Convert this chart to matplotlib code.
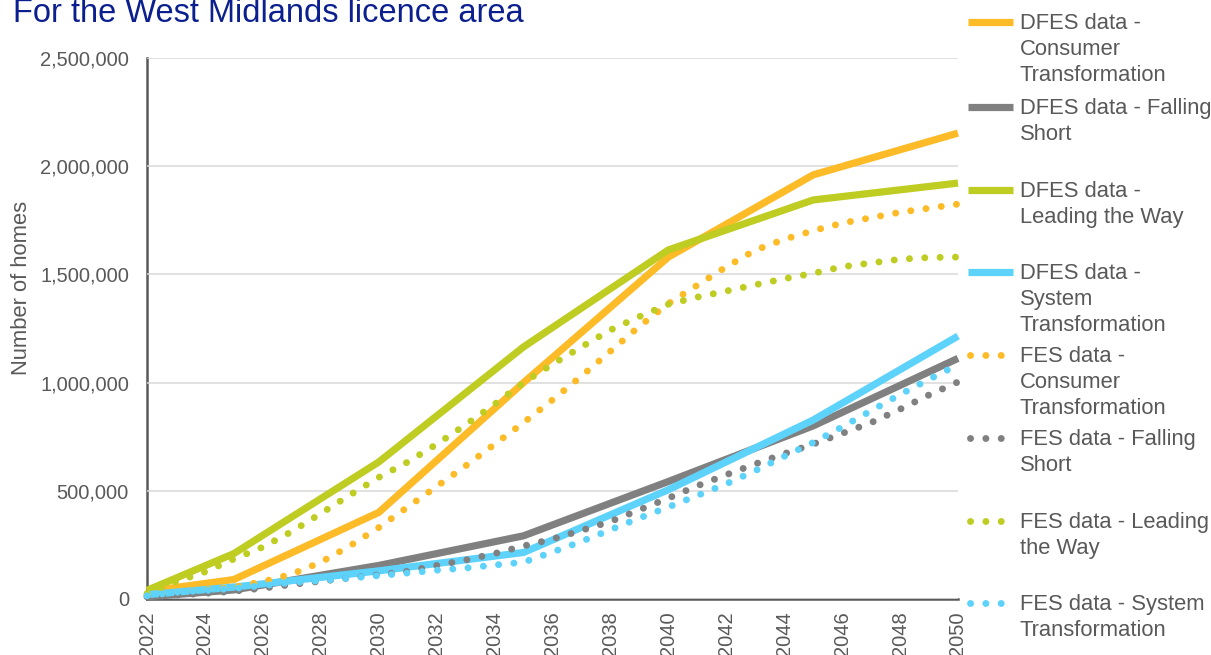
import numpy as np
import matplotlib.pyplot as plt
from matplotlib.ticker import FuncFormatter

plt.rcParams['font.family'] = ['Liberation Sans', 'DejaVu Sans']

# ---- data ----
dfes_years = [2022, 2025, 2030, 2035, 2040, 2045, 2050]
dfes_consumer = [35000, 90000, 400000, 1000000, 1580000, 1960000, 2153000]
dfes_falling = [10000, 42000, 155000, 292000, 543000, 800000, 1112000]
dfes_leading = [40000, 210000, 633000, 1165000, 1613000, 1844000, 1922000]
dfes_system = [20000, 55000, 130000, 215000, 505000, 827000, 1215000]

fes_years = np.arange(2022, 2051)
fes_consumer = [15000, 30000, 42000, 55000, 80000, 115000, 170000, 245000, 330000, 425000,
                520000, 615000, 715000, 815000, 920000, 1030000, 1145000, 1260000, 1365000, 1450000,
                1535000, 1612000, 1662000, 1702000, 1737000, 1762000, 1787000, 1806000, 1825000]
fes_falling = [10000, 18000, 26000, 36000, 50000, 67000, 82000, 97000, 112000, 128000,
               155000, 180000, 210000, 245000, 277000, 317000, 358000, 412000, 466000, 523000,
               574000, 624000, 671000, 716000, 765000, 815000, 877000, 943000, 1003000]
fes_leading = [25000, 80000, 125000, 185000, 240000, 312000, 395000, 480000, 562000, 633000,
               715000, 805000, 900000, 1000000, 1085000, 1165000, 1243000, 1305000, 1362000, 1395000,
               1423000, 1452000, 1480000, 1505000, 1535000, 1553000, 1570000, 1578000, 1580000]
fes_system = [15000, 31000, 39000, 49000, 62000, 76000, 85000, 97000, 108000, 120000,
              133000, 143000, 157000, 170000, 217000, 266000, 320000, 374000, 425000, 478000,
              532000, 593000, 659000, 723000, 795000, 870000, 945000, 1015000, 1083000]

labels = ['DFES data -\nConsumer\nTransformation',
          'DFES data - Falling\nShort',
          'DFES data -\nLeading the Way',
          'DFES data -\nSystem\nTransformation',
          'FES data -\nConsumer\nTransformation',
          'FES data - Falling\nShort',
          'FES data - Leading\nthe Way',
          'FES data - System\nTransformation']

c_orange = '#FDBB28'
c_grey = '#808080'
c_green = '#BFCC22'
c_blue = '#5DD3FC'
colors = [c_orange, c_grey, c_green, c_blue]
text_col = '#595959'

fig = plt.figure(figsize=(12.11, 6.55), dpi=100)
ax = fig.add_axes([147 / 1211, 1 - 599 / 655, (958 - 147) / 1211, (599 - 58) / 655])

dot_style = (0, (0.01, 2.2))
for vals, col in zip([dfes_consumer, dfes_falling, dfes_leading, dfes_system], colors):
    ax.plot(dfes_years, vals, color=col, lw=5.2, solid_capstyle='butt',
            solid_joinstyle='round', clip_on=False)
for vals, col in zip([fes_consumer, fes_falling, fes_leading, fes_system], colors):
    ax.plot(fes_years, vals, color=col, lw=5, linestyle=dot_style,
            dash_capstyle='round', clip_on=False)

ax.set_xlim(2022, 2050)
ax.set_ylim(0, 2500000)
ax.set_xticks(np.arange(2022, 2051, 2))
ax.set_yticks(np.arange(0, 2500001, 500000))
ax.yaxis.set_major_formatter(FuncFormatter(lambda v, p: f'{int(v):,}'))
ax.tick_params(axis='x', length=0, pad=9, labelsize=14.5, labelcolor=text_col, labelrotation=90)
ax.tick_params(axis='y', length=0, pad=13, labelsize=14.5, labelcolor=text_col)
ax.grid(axis='y', color='#D9D9D9', lw=1.1)
ax.set_axisbelow(True)
for s in ['top', 'right']:
    ax.spines[s].set_visible(False)
for s in ['left', 'bottom']:
    ax.spines[s].set_color(text_col)
    ax.spines[s].set_linewidth(1.8)
    ax.spines[s].set_zorder(0.5)

fig.text(13 / 1211, 1 - 22 / 655, 'For the West Midlands licence area',
         fontsize=23.5, color='#0B1F8F', va='baseline', ha='left')
fig.text(22 / 1211, 1 - 288 / 655, 'Number of homes', rotation=90,
         fontsize=15.8, color=text_col, va='center', ha='center')

# ---- legend drawn by hand, handle lined up with first text line ----
lg = fig.add_axes([0, 0, 1, 1], facecolor='none')
lg.set_xlim(0, 1211)
lg.set_ylim(655, 0)
lg.axis('off')
slot_y = [22, 107, 190, 272, 355, 438, 521, 603]
for i, (lab, yy) in enumerate(zip(labels, slot_y)):
    col = colors[i % 4]
    if i < 4:
        lg.plot([968, 1013], [yy, yy], color=col, lw=5.2, solid_capstyle='butt')
    else:
        lg.plot([970, 1001], [yy, yy], color=col, lw=5, linestyle=dot_style,
                dash_capstyle='round')
    lg.text(1020, yy - 9, lab, fontsize=15.8, color=text_col, va='top', ha='left',
            linespacing=1.3)

fig.savefig('out.png', dpi=100)
